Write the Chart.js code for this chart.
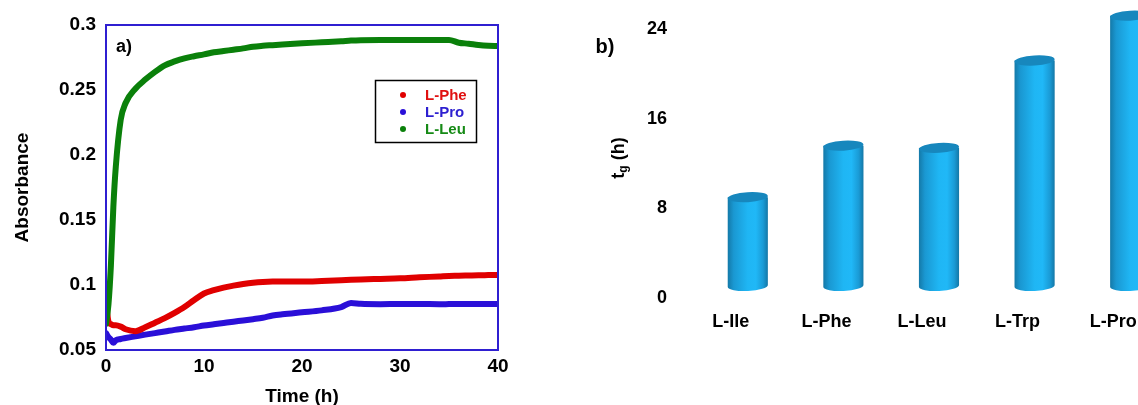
<!DOCTYPE html>
<html>
<head>
<meta charset="utf-8">
<script src="https://cdn.jsdelivr.net/npm/chart.js@4.4.1/dist/chart.umd.min.js"></script>
<style>
  html, body { margin: 0; padding: 0; background: #fff; }
  #wrapA { position: absolute; left: 0; top: 0; width: 540px; height: 405px; }
  #wrapB { position: absolute; left: 560px; top: 0; width: 578px; height: 405px; overflow: hidden; }
</style>
</head>
<body>
<div id="wrapA"><canvas id="chartA" width="540" height="405"></canvas></div>
<div id="wrapB"><canvas id="chartB" width="640" height="405"></canvas></div>
<script>
// ---- panel a) : absorbance vs time ----
const timeH = [0, 0.25, 0.5, 0.75, 1, 1.5, 2, 3, 4, 5, 6, 7, 8, 9, 10, 11, 12, 13, 14, 15, 16, 17, 18, 20, 22, 24, 25, 26, 28, 30, 32, 34, 35, 36, 37, 38, 39, 40];
const lPhe = [0.087, 0.072, 0.070, 0.069, 0.069, 0.068, 0.066, 0.0645, 0.0675, 0.071, 0.0745, 0.0785, 0.083, 0.0885, 0.0935, 0.096, 0.098, 0.0995, 0.1008, 0.1018, 0.1024, 0.1026, 0.1026, 0.1026, 0.1030, 0.1036, 0.104, 0.1043, 0.1047, 0.1051, 0.1059, 0.1066, 0.107, 0.1071, 0.1073, 0.1075, 0.1076, 0.1077];
const lPro = [0.063, 0.060, 0.058, 0.0555, 0.0575, 0.0585, 0.0592, 0.0605, 0.0618, 0.063, 0.0642, 0.0655, 0.0665, 0.0675, 0.0688, 0.0698, 0.0708, 0.0718, 0.0727, 0.0737, 0.0748, 0.0765, 0.0775, 0.079, 0.0805, 0.083, 0.0862, 0.0855, 0.0852, 0.0854, 0.0854, 0.0852, 0.0853, 0.0854, 0.0854, 0.0854, 0.0854, 0.0854];
const lLeu = [0.070, 0.085, 0.115, 0.160, 0.191, 0.227, 0.240, 0.251, 0.258, 0.264, 0.269, 0.272, 0.2744, 0.276, 0.2774, 0.279, 0.280, 0.281, 0.282, 0.2833, 0.284, 0.2845, 0.285, 0.2859, 0.2867, 0.2875, 0.288, 0.2883, 0.2885, 0.2885, 0.2885, 0.2885, 0.2885, 0.2864, 0.2856, 0.2846, 0.284, 0.2838];
const seriesNames = ['L-Phe', 'L-Pro', 'L-Leu'];

// ---- panel b) : tg per amino acid ----
const aminoAcids = ['L-Ile', 'L-Phe', 'L-Leu', 'L-Trp', 'L-Pro'];
const tgHours = [9.0, 13.6, 13.4, 21.2, 25.2];
const tgTicks = [0, 8, 16, 24];

const FONT = "'Liberation Sans', Arial, sans-serif";

function toPoints(ys) {
  return timeH.map((t, i) => ({ x: t, y: ys[i] }));
}

// blue frame, legend box and "a)" label
const frameA = {
  id: 'frameA',
  afterDraw(chart) {
    const { ctx, chartArea: a } = chart;
    ctx.save();
    ctx.strokeStyle = '#2f1fd1';
    ctx.lineWidth = 2;
    ctx.strokeRect(a.left, a.top, a.right - a.left, a.bottom - a.top);

    ctx.font = 'bold 18px ' + FONT;
    ctx.fillStyle = '#000';
    ctx.textAlign = 'center';
    ctx.textBaseline = 'middle';
    ctx.fillText('a)', a.left + 18, 47);

    // legend
    ctx.strokeStyle = '#000';
    ctx.lineWidth = 1.5;
    ctx.strokeRect(375.5, 80.5, 101, 62);
    ctx.font = 'bold 15px ' + FONT;
    ctx.textAlign = 'left';
    chart.data.datasets.forEach((ds, i) => {
      const y = 95 + 17 * i;
      ctx.fillStyle = ds.borderColor;
      ctx.beginPath();
      ctx.arc(403, y, 3, 0, Math.PI * 2);
      ctx.fill();
      ctx.fillStyle = ds.legendColor;
      ctx.fillText(ds.label, 425, y + 1);
    });
    ctx.restore();
  }
};

new Chart(document.getElementById('chartA'), {
  type: 'line',
  data: {
    datasets: [
      { label: seriesNames[0], data: toPoints(lPhe), borderColor: '#e00000', legendColor: '#e01010', order: 1 },
      { label: seriesNames[1], data: toPoints(lPro), borderColor: '#2a0fd8', legendColor: '#2d1fd0', order: 2 },
      { label: seriesNames[2], data: toPoints(lLeu), borderColor: '#0a800a', legendColor: '#168a16', order: 0 }
    ]
  },
  options: {
    responsive: false,
    animation: false,
    layout: { padding: { top: 25, right: 42, left: 0, bottom: 0 } },
    elements: {
      line: { borderWidth: 6, cubicInterpolationMode: 'monotone', borderCapStyle: 'round', borderJoinStyle: 'round' },
      point: { radius: 0 }
    },
    plugins: { legend: { display: false }, tooltip: { enabled: false } },
    scales: {
      x: {
        type: 'linear', min: 0, max: 40,
        grid: { display: false, drawTicks: false }, border: { display: false },
        ticks: { stepSize: 10, padding: 5, color: '#000', font: { family: FONT, size: 19, weight: 'bold' } },
        title: { display: true, text: 'Time (h)', color: '#000', padding: { top: 0, bottom: -3 }, font: { family: FONT, size: 19, weight: 'bold' } },
        afterFit(s) { s.height = 55; }
      },
      y: {
        min: 0.05, max: 0.3,
        grid: { display: false, drawTicks: false }, border: { display: false },
        ticks: {
          stepSize: 0.05, padding: 10, color: '#000', font: { family: FONT, size: 19, weight: 'bold' },
          callback: v => String(parseFloat(v.toFixed(2)))
        },
        title: { display: true, text: 'Absorbance', color: '#000', padding: { top: 11, bottom: 0 }, font: { family: FONT, size: 19, weight: 'bold' } },
        afterFit(s) { s.width = 106; }
      }
    }
  },
  plugins: [frameA]
});

// cylinders for panel b), plus subscripted axis title and "b)"
const cylinders = {
  id: 'cylinders',
  afterDatasetsDraw(chart) {
    const ctx = chart.ctx;
    ctx.save();
    chart.getDatasetMeta(0).data.forEach(bar => {
      const rx = bar.width / 2, ry = 5;
      const cx = bar.x, top = bar.y, bottom = bar.base - 12;
      const g = ctx.createLinearGradient(cx - rx, 0, cx + rx, 0);
      g.addColorStop(0, '#1479a8');
      g.addColorStop(0.15, '#1a98d2');
      g.addColorStop(0.5, '#1fb6f4');
      g.addColorStop(0.7, '#20b8f7');
      g.addColorStop(0.88, '#1a9bd6');
      g.addColorStop(1, '#1477a6');
      ctx.beginPath();
      ctx.moveTo(cx - rx, top);
      ctx.lineTo(cx - rx, bottom);
      ctx.ellipse(cx, bottom, rx, ry, -0.05, Math.PI, 0, true);
      ctx.lineTo(cx + rx, top);
      ctx.closePath();
      ctx.fillStyle = g;
      ctx.fill();
      ctx.beginPath();
      ctx.ellipse(cx, top, rx, ry, -0.06, 0, Math.PI * 2);
      ctx.fillStyle = '#1787bd';
      ctx.fill();
    });
    ctx.restore();
  },
  afterDraw(chart) {
    const ctx = chart.ctx;
    ctx.save();
    ctx.fillStyle = '#000';
    ctx.textBaseline = 'middle';
    ctx.textAlign = 'center';
    ctx.font = 'bold 20px ' + FONT;
    ctx.fillText('b)', 45, 47);

    // "tg (h)" rotated, g as subscript
    ctx.translate(59, 158);
    ctx.rotate(-Math.PI / 2);
    ctx.textAlign = 'left';
    const big = 'bold 18px ' + FONT, small = 'bold 12px ' + FONT;
    ctx.font = big; const wt = ctx.measureText('t').width;
    ctx.font = small; const wg = ctx.measureText('g').width;
    ctx.font = big; const wh = ctx.measureText(' (h)').width;
    let x = -(wt + wg + wh) / 2;
    ctx.font = big; ctx.fillText('t', x, 0); x += wt;
    ctx.font = small; ctx.fillText('g', x, 5); x += wg;
    ctx.font = big; ctx.fillText(' (h)', x, 0);
    ctx.restore();
  }
};

new Chart(document.getElementById('chartB'), {
  type: 'bar',
  data: {
    labels: aminoAcids,
    datasets: [{ data: tgHours, backgroundColor: 'rgba(0,0,0,0)', borderWidth: 0, barPercentage: 0.42, categoryPercentage: 1 }]
  },
  options: {
    responsive: false,
    animation: false,
    layout: { padding: { top: 0, right: 22, left: 0, bottom: 0 } },
    plugins: { legend: { display: false }, tooltip: { enabled: false } },
    scales: {
      x: {
        grid: { display: false, drawTicks: false }, border: { display: false },
        ticks: { padding: 13, labelOffset: -17, color: '#000', font: { family: FONT, size: 18, weight: 'bold' } },
        afterFit(s) { s.height = 107; s.paddingLeft = 0; s.paddingRight = 0; }
      },
      y: {
        min: 0, max: 26.6,
        grid: { display: false, drawTicks: false }, border: { display: false },
        afterBuildTicks(s) { s.ticks = tgTicks.map(v => ({ value: v })); },
        ticks: { padding: 33, color: '#000', font: { family: FONT, size: 18, weight: 'bold' } },
        afterFit(s) { s.width = 140; s.paddingTop = 0; s.paddingBottom = 0; }
      }
    }
  },
  plugins: [cylinders]
});
</script>
</body>
</html>
